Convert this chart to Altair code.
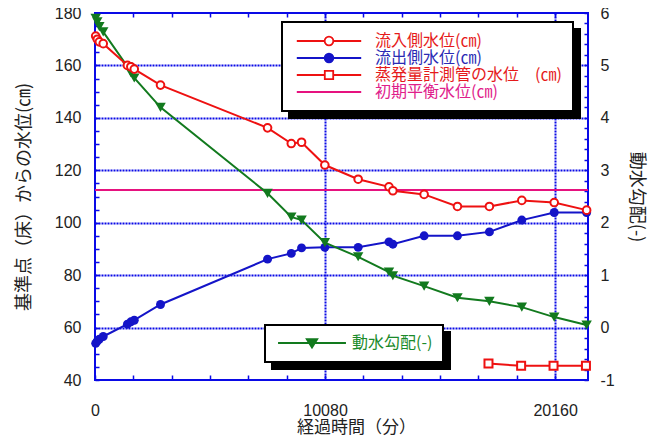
import altair as alt
import pandas as pd

# ---------------- data ----------------
time_min = [30, 100, 190, 360, 1420, 1570, 1720, 2870, 7560, 8600, 9050, 10070,
            11530, 12880, 13050, 14420, 15880, 17280, 18700, 20120, 21540]
inflow_cm = [171.2, 170.0, 169.0, 168.3, 160.0, 159.5, 158.6, 152.5, 136.2, 130.2, 130.7, 122.0,
             116.6, 113.7, 112.2, 110.8, 106.2, 106.2, 108.5, 107.7, 104.8]
outflow_cm = [54.0, 54.8, 55.6, 56.6, 61.3, 62.2, 62.8, 68.8, 86.1, 88.3, 90.4, 90.6,
              90.6, 92.7, 91.8, 95.0, 95.0, 96.5, 101.0, 103.9, 103.9]
gradient = [5.90, 5.83, 5.74, 5.64, 4.98, 4.86, 4.76, 4.20, 2.56, 2.11, 2.05, 1.62,
            1.35, 1.06, 0.99, 0.79, 0.57, 0.50, 0.39, 0.20, 0.05]
evap_time_min = [17240, 18670, 20090, 21510]
evap_cm = [46.3, 45.4, 45.4, 45.4]
equilibrium_cm = [112.5]

series_labels = ["流入側水位(㎝)", "流出側水位(㎝)", "蒸発量計測管の水位　(㎝)", "初期平衡水位(㎝)"]
gradient_label = ["動水勾配(-)"]

x_tick_values = list(range(0, 21601, 1680))
y_left_tick_values = list(range(40, 181, 5))
y_right_tick_values = [round(-1 + 0.2 * i, 1) for i in range(36)]

# ---------------- styles ----------------
RED = "#ee1111"
BLUE = "#1414c8"
GREEN = "#127a1e"
MAGENTA = "#e6127f"
AXISBLUE = "#0a0ae6"
TXT = "#222222"
CJK = "Noto Sans CJK JP"
LAT = "Liberation Sans"

series_colors = [RED, BLUE, RED, MAGENTA]
series_fills = ["white", BLUE, "white", "white"]
label_colors = ["#e51a1a", "#2a2ab4", "#e51a1a", "#e0208a"]

# legend symbols: line through a marker (unit = half symbol width)
line_part = "M-4.6,0H-0.62M0.62,0H4.6"
circ = "M-0.62,0A0.62,0.62,0,1,1,0.62,0A0.62,0.62,0,1,1,-0.62,0Z"
sq = "M-0.6,-0.6H0.6V0.6H-0.6Z"
legend_paths = [line_part + circ, line_part + circ, line_part + sq, "M-4.6,0H4.6"]
grad_path = ["M-4.85,0H4.85M-0.75,-0.55H0.75L0,0.65Z"]

df_in = pd.DataFrame({"t": time_min, "v": inflow_cm})
df_out = pd.DataFrame({"t": time_min, "v": outflow_cm})
df_g = pd.DataFrame({"t": time_min, "g": gradient})
df_ev = pd.DataFrame({"t": evap_time_min, "v": evap_cm})
df_eq = pd.DataFrame({"v": equilibrium_cm})
df_leg = pd.DataFrame({"series": series_labels})
df_leg2 = pd.DataFrame({"series": gradient_label})

xs = alt.Scale(domain=[0, 21600], nice=False, zero=False)
ys_cm = alt.Scale(domain=[40, 180], nice=False, zero=False)
ys_g = alt.Scale(domain=[-1, 6], nice=False, zero=False)

x_axis_bottom = alt.Axis(
    orient="bottom", values=x_tick_values, format="d",
    labelExpr="datum.value % 10080 == 0 ? datum.label : ''",
    offset=-5, tickSize=5, tickColor=AXISBLUE, tickWidth=1.5, domain=False,
    grid=True, gridColor=AXISBLUE, gridDash=[2, 1], gridWidth=2,
    gridOpacity={"condition": {"test": "datum.value % 10080 == 0 && datum.value > 0", "value": 1}, "value": 0},
    labelFont=LAT, labelFontSize=16, labelColor=TXT, labelPadding=22,
    labelOverlap=False, labelFlush=False,
    title="経過時間（分）", titleFont=CJK, titleFontSize=17, titleFontWeight="normal",
    titleColor=TXT, titlePadding=1, titleX=261)

x_axis_top = alt.Axis(
    orient="top", values=x_tick_values, labels=False, offset=-4, tickSize=4,
    tickColor=AXISBLUE, tickWidth=1.5, domain=False, grid=False, title=None)

y_axis_left = alt.Axis(
    orient="left", values=y_left_tick_values,
    labelExpr="datum.value % 20 == 0 ? datum.label : ''",
    offset=-4, tickSize=4, tickColor=AXISBLUE, tickWidth=1.5, domain=False,
    grid=True, gridColor=AXISBLUE, gridDash=[2, 1], gridWidth=2,
    gridOpacity={"condition": {"test": "datum.value % 20 == 0 && datum.value > 40 && datum.value < 180", "value": 1}, "value": 0},
    labelFont=LAT, labelFontSize=16, labelColor=TXT, labelPadding=14,
    labelOverlap=False, labelFlush=False,
    title="基準点（床）からの水位(㎝)", titleFont=CJK, titleFontSize=18, titleFontWeight="normal",
    titleColor=TXT, titlePadding=21)

y_axis_right = alt.Axis(
    orient="right", values=y_right_tick_values,
    labelExpr="abs(datum.value - round(datum.value)) < 0.001 ? '' + round(datum.value) : ''",
    offset=-4, tickSize=4, tickColor=AXISBLUE, tickWidth=1.5, domain=False, grid=False,
    labelFont=LAT, labelFontSize=16, labelColor=TXT, labelPadding=12,
    labelOverlap=False, labelFlush=False,
    title="動水勾配(-)", titleFont=CJK, titleFontSize=18, titleFontWeight="normal",
    titleColor=TXT, titlePadding=12)

xn = alt.X("t:Q", scale=xs, axis=None)

eq_rule = alt.Chart(df_eq).mark_rule(color=MAGENTA, strokeWidth=2).encode(
    y=alt.Y("v:Q", scale=ys_cm, axis=None))

ev_line = alt.Chart(df_ev).mark_line(color=RED, strokeWidth=2).encode(
    x=xn, y=alt.Y("v:Q", scale=ys_cm, axis=None))
ev_pts = alt.Chart(df_ev).mark_point(shape="square", size=64, filled=True, fill="white",
                                     stroke=RED, strokeWidth=2, opacity=1).encode(
    x=xn, y=alt.Y("v:Q", scale=ys_cm, axis=None))

out_line = alt.Chart(df_out).mark_line(color=BLUE, strokeWidth=2).encode(
    x=alt.X("t:Q", scale=xs, axis=x_axis_top), y=alt.Y("v:Q", scale=ys_cm, axis=None))
out_pts = alt.Chart(df_out).mark_point(shape="circle", size=80, filled=True, color=BLUE, opacity=1).encode(
    x=xn, y=alt.Y("v:Q", scale=ys_cm, axis=None))

g_line = alt.Chart(df_g).mark_line(color=GREEN, strokeWidth=2).encode(
    x=xn, y=alt.Y("g:Q", scale=ys_g, axis=y_axis_right))
g_pts = alt.Chart(df_g).mark_point(shape="triangle-down", size=110, filled=True, color=GREEN, opacity=1).encode(
    x=xn, y=alt.Y("g:Q", scale=ys_g, axis=None))

in_line = alt.Chart(df_in).mark_line(color=RED, strokeWidth=2).encode(
    x=alt.X("t:Q", scale=xs, axis=x_axis_bottom), y=alt.Y("v:Q", scale=ys_cm, axis=y_axis_left))
in_pts = alt.Chart(df_in).mark_point(shape="circle", size=58, filled=True, fill="white",
                                     stroke=RED, strokeWidth=2, opacity=1).encode(
    x=xn, y=alt.Y("v:Q", scale=ys_cm, axis=None))

label_expr = "[" + ",".join("'%s'" % c for c in label_colors) + "][datum.index]"

common_leg = dict(title=None, orient="none", rowPadding=1, symbolSize=196,
                  labelFont=CJK, labelFontSize=16, labelLimit=400, symbolStrokeWidth=1.8)

leg1 = alt.Legend(legendX=187, legendY=9, padding=11, symbolOffset=28, labelOffset=38,
                  labelColor={"expr": label_expr}, fillColor="white", strokeColor="black",
                  zindex=2, **common_leg)
leg1_sh = alt.Legend(legendX=194, legendY=16, padding=11, symbolOffset=28, labelOffset=38,
                     labelColor="black", fillColor="black", strokeColor="black",
                     zindex=1, **common_leg)
leg2 = alt.Legend(legendX=170, legendY=312, padding=10, symbolOffset=29, labelOffset=32,
                  labelColor="#1a8a2a", fillColor="white", strokeColor="black",
                  zindex=2, **common_leg)
leg2_sh = alt.Legend(legendX=177, legendY=319, padding=10, symbolOffset=29, labelOffset=32,
                     labelColor="black", fillColor="black", strokeColor="black",
                     zindex=1, **common_leg)

legend1_layer = alt.Chart(df_leg).transform_filter("false").mark_point(
    filled=True, opacity=1, strokeWidth=1.8).encode(
    shape=alt.Shape("series:N", scale=alt.Scale(domain=series_labels, range=legend_paths), legend=leg1),
    stroke=alt.Stroke("series:N", scale=alt.Scale(domain=series_labels, range=series_colors), legend=leg1),
    fill=alt.Fill("series:N", scale=alt.Scale(domain=series_labels, range=series_fills), legend=leg1))

shadow1_layer = alt.Chart(df_leg).transform_filter("false").mark_point(
    filled=True, opacity=1, color="black", strokeWidth=1.8).encode(
    shape=alt.Shape("series:N", scale=alt.Scale(domain=series_labels, range=legend_paths), legend=leg1_sh))

legend2_layer = alt.Chart(df_leg2).transform_filter("false").mark_point(
    filled=True, opacity=1, strokeWidth=1.8).encode(
    shape=alt.Shape("series:N", scale=alt.Scale(domain=gradient_label, range=grad_path), legend=leg2),
    stroke=alt.Stroke("series:N", scale=alt.Scale(domain=gradient_label, range=[GREEN]), legend=leg2),
    fill=alt.Fill("series:N", scale=alt.Scale(domain=gradient_label, range=[GREEN]), legend=leg2))

shadow2_layer = alt.Chart(df_leg2).transform_filter("false").mark_point(
    filled=True, opacity=1, color="black", strokeWidth=1.8).encode(
    shape=alt.Shape("series:N", scale=alt.Scale(domain=gradient_label, range=grad_path), legend=leg2_sh))

chart = alt.layer(
    eq_rule, ev_line, ev_pts, out_line, out_pts, g_line, g_pts, in_line, in_pts,
    shadow1_layer, legend1_layer, shadow2_layer, legend2_layer
).resolve_scale(
    y="independent", shape="independent", stroke="independent", fill="independent"
).resolve_axis(
    x="independent", y="independent"
).resolve_legend(
    shape="independent", stroke="independent", fill="independent"
).properties(
    width=493, height=367,
    autosize=alt.AutoSizeParams(type="none"),
    padding={"left": 87, "top": 5, "right": 65, "bottom": 58},
    background="white",
).configure_view(
    stroke=AXISBLUE, strokeWidth=2
).configure_legend(
    strokeWidth=2, cornerRadius=0
)

chart.save("out.html", embed_options={"renderer": "svg", "actions": False})
